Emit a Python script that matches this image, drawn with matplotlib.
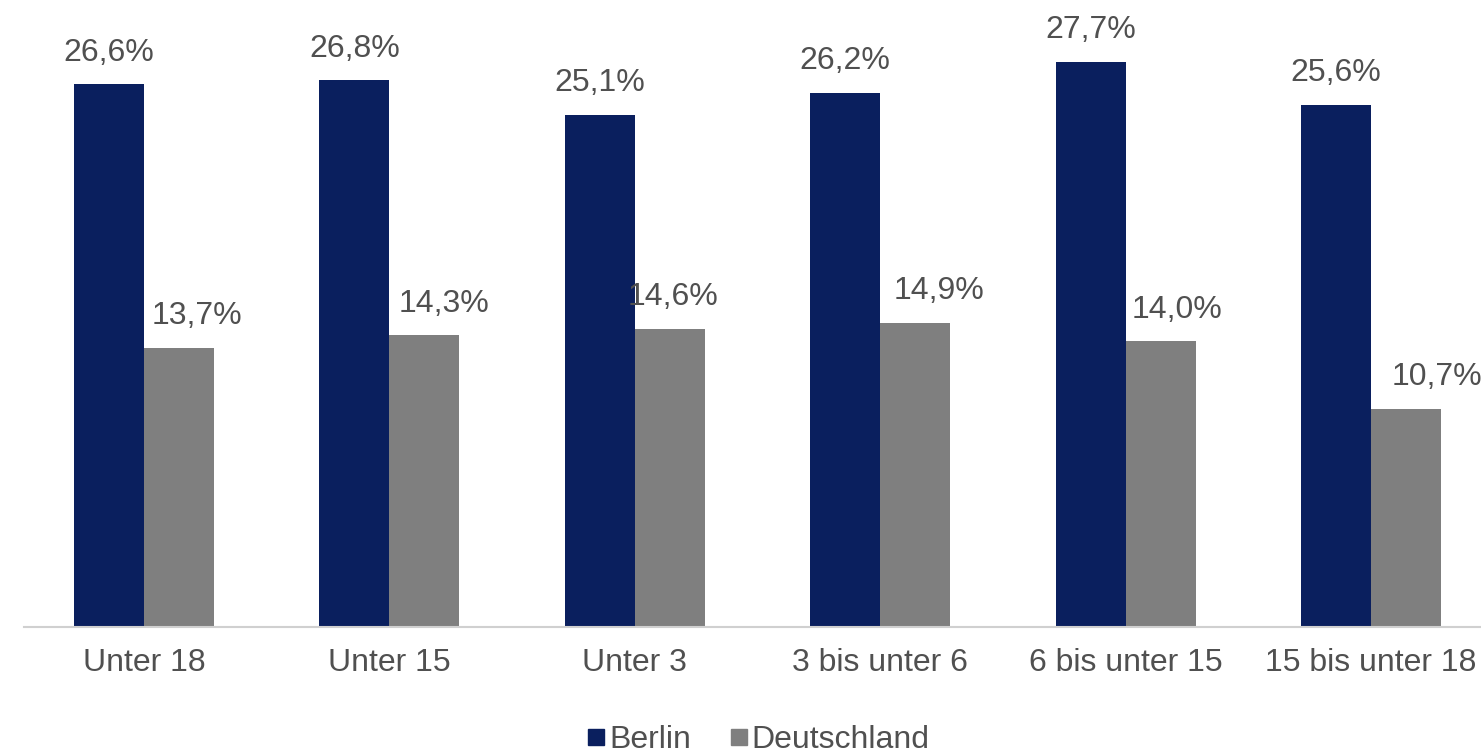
import matplotlib
matplotlib.use("Agg")
import matplotlib.pyplot as plt
from matplotlib.lines import Line2D
import numpy as np

categories = ["Unter 18", "Unter 15", "Unter 3", "3 bis unter 6", "6 bis unter 15", "15 bis unter 18"]
berlin = [26.6, 26.8, 25.1, 26.2, 27.7, 25.6]
deutschland = [13.7, 14.3, 14.6, 14.9, 14.0, 10.7]
series_names = ["Berlin", "Deutschland"]

# label nudges (points) to mimic the spreadsheet's label placement
de_label_dx = [13, 14, 2, 17, 12, 22]

col_berlin = "#0a1f5e"
col_de = "#7f7f7f"
txt = "#505050"

plt.rcParams["font.family"] = ["Liberation Sans", "DejaVu Sans"]

fig = plt.figure(figsize=(14.81, 7.53), dpi=100)
ax = fig.add_axes([24 / 1481, 126 / 753, 1 - 24 / 1481, 612 / 753])

x = np.arange(len(categories))
w = 0.285
b1 = ax.bar(x - w / 2, berlin, w, color=col_berlin)
b2 = ax.bar(x + w / 2, deutschland, w, color=col_de)

for rect, v in zip(b1, berlin):
    ax.annotate(f"{v:.1f}%".replace(".", ","), (rect.get_x() + rect.get_width() / 2, v),
                xytext=(0, 12), textcoords="offset points", ha="center", va="bottom",
                fontsize=23, color=txt)
for rect, v, dx in zip(b2, deutschland, de_label_dx):
    ax.annotate(f"{v:.1f}%".replace(".", ","), (rect.get_x() + rect.get_width() / 2, v),
                xytext=(dx, 12), textcoords="offset points", ha="center", va="bottom",
                fontsize=23, color=txt, annotation_clip=False)

ax.set_xlim(-(144 - 24) / 245.4, 5 + (1481 - 1371) / 245.4)
ax.set_ylim(0, 30)
ax.set_xticks(x)
ax.set_xticklabels(categories, fontsize=23, color=txt)
ax.tick_params(axis="x", length=0, pad=15)
ax.set_yticks([])
for s in ["top", "right", "left"]:
    ax.spines[s].set_visible(False)
ax.spines["bottom"].set_color("#d0d0d0")
ax.spines["bottom"].set_linewidth(1.5)

handles = [Line2D([], [], marker="s", linestyle="", color=col_berlin, markersize=11),
           Line2D([], [], marker="s", linestyle="", color=col_de, markersize=11)]
fig.legend(handles, series_names, loc="center", bbox_to_anchor=(758 / 1481, 1 - 740 / 753),
           ncol=2, frameon=False, fontsize=23, labelcolor=txt, handlelength=0.6,
           handletextpad=0.1, columnspacing=1.2)

fig.savefig("out.png", dpi=100)
